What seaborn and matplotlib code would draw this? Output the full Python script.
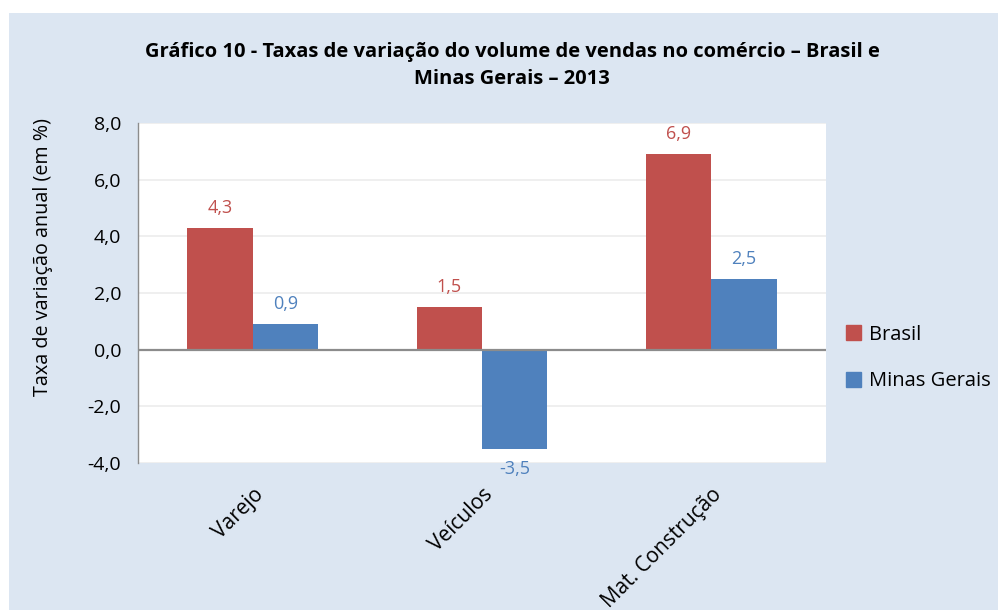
import matplotlib
matplotlib.use("Agg")
import matplotlib.pyplot as plt
import matplotlib.patches as mpatches
import seaborn as sns
import pandas as pd
from matplotlib.ticker import FuncFormatter

categories = ["Varejo", "Veículos", "Mat. Construção"]
brasil = [4.3, 1.5, 6.9]
minas = [0.9, -3.5, 2.5]
series_names = ["Brasil", "Minas Gerais"]
colors = ["#c0504d", "#4f81bd"]
yticks = [-4, -2, 0, 2, 4, 6, 8]

df = pd.DataFrame({
    "cat": categories * 2,
    "val": brasil + minas,
    "serie": [series_names[0]] * 3 + [series_names[1]] * 3,
})

sns.set_theme(style="white")
plt.rcParams["font.family"] = ["Open Sans", "DejaVu Sans"]
plt.rcParams["text.color"] = "black"
plt.rcParams["axes.labelcolor"] = "black"
plt.rcParams["xtick.color"] = "black"
plt.rcParams["ytick.color"] = "black"

fig = plt.figure(figsize=(9.98, 6.10), dpi=100)
fig.patch.set_facecolor("white")
panel = mpatches.Rectangle((9 / 998, 0), 1 - 9 / 998, (610 - 13) / 610,
                           transform=fig.transFigure, facecolor="#dce6f2",
                           edgecolor="none", zorder=-10)
fig.patches.append(panel)

ax = fig.add_axes([138 / 998, (610 - 463) / 610, 688 / 998, 340 / 610])
ax.set_zorder(1)
ax.set_facecolor("white")

sns.barplot(data=df, x="cat", y="val", hue="serie", order=categories,
            hue_order=series_names, palette=colors, width=0.57,
            saturation=1, ax=ax, legend=False, edgecolor="none")

ax.set_ylim(-4, 8)
ax.set_xlim(-0.5, 2.5)
ax.set_yticks(yticks)
ax.yaxis.set_major_formatter(FuncFormatter(lambda v, p: f"{v:.1f}".replace(".", ",")))
ax.grid(axis="y", color="#ececec", linewidth=1.2)
ax.set_axisbelow(True)
ax.axhline(0, color="#8c8c8c", linewidth=1.6, zorder=3)
for s in ["top", "right", "bottom"]:
    ax.spines[s].set_visible(False)
ax.spines["left"].set_color("#8c8c8c")
ax.spines["left"].set_linewidth(1.0)
ax.tick_params(axis="y", labelsize=14, colors="black", length=0, pad=12)
ax.tick_params(axis="x", length=0, pad=15)
ax.set_xticks(range(len(categories)))
ax.set_xticklabels(categories, rotation=45, ha="right", rotation_mode="anchor",
                   fontsize=15)
for lbl in ax.get_xticklabels():
    lbl.set_x(lbl.get_position()[0])
ax.set_xlabel("")
ax.set_ylabel("Taxa de variação anual (em %)", fontsize=14.2)
ax.yaxis.set_label_coords(-0.123, 0.606)

for container, col in zip(ax.containers, colors):
    labels = [f"{b.get_height():.1f}".replace(".", ",") for b in container]
    ax.bar_label(container, labels=labels, padding=8, color=col, fontsize=13)

fig.text(0.513, 0.915, "Gráfico 10 - Taxas de variação do volume de vendas no comércio – Brasil e",
         ha="center", va="center", fontsize=14.5, fontweight="bold")
fig.text(0.513, 0.871, "Minas Gerais – 2013",
         ha="center", va="center", fontsize=14.5, fontweight="bold")

handles = [mpatches.Patch(color=c, label=n) for c, n in zip(colors, series_names)]
fig.legend(handles=handles, loc="center left", bbox_to_anchor=(846 / 998, (610 - 358) / 610),
           frameon=False, fontsize=14.5, handlelength=0.75, handleheight=0.75,
           handletextpad=0.4, labelspacing=1.32, borderpad=0, borderaxespad=0)

fig.savefig("out.png", dpi=100, facecolor=fig.get_facecolor())
